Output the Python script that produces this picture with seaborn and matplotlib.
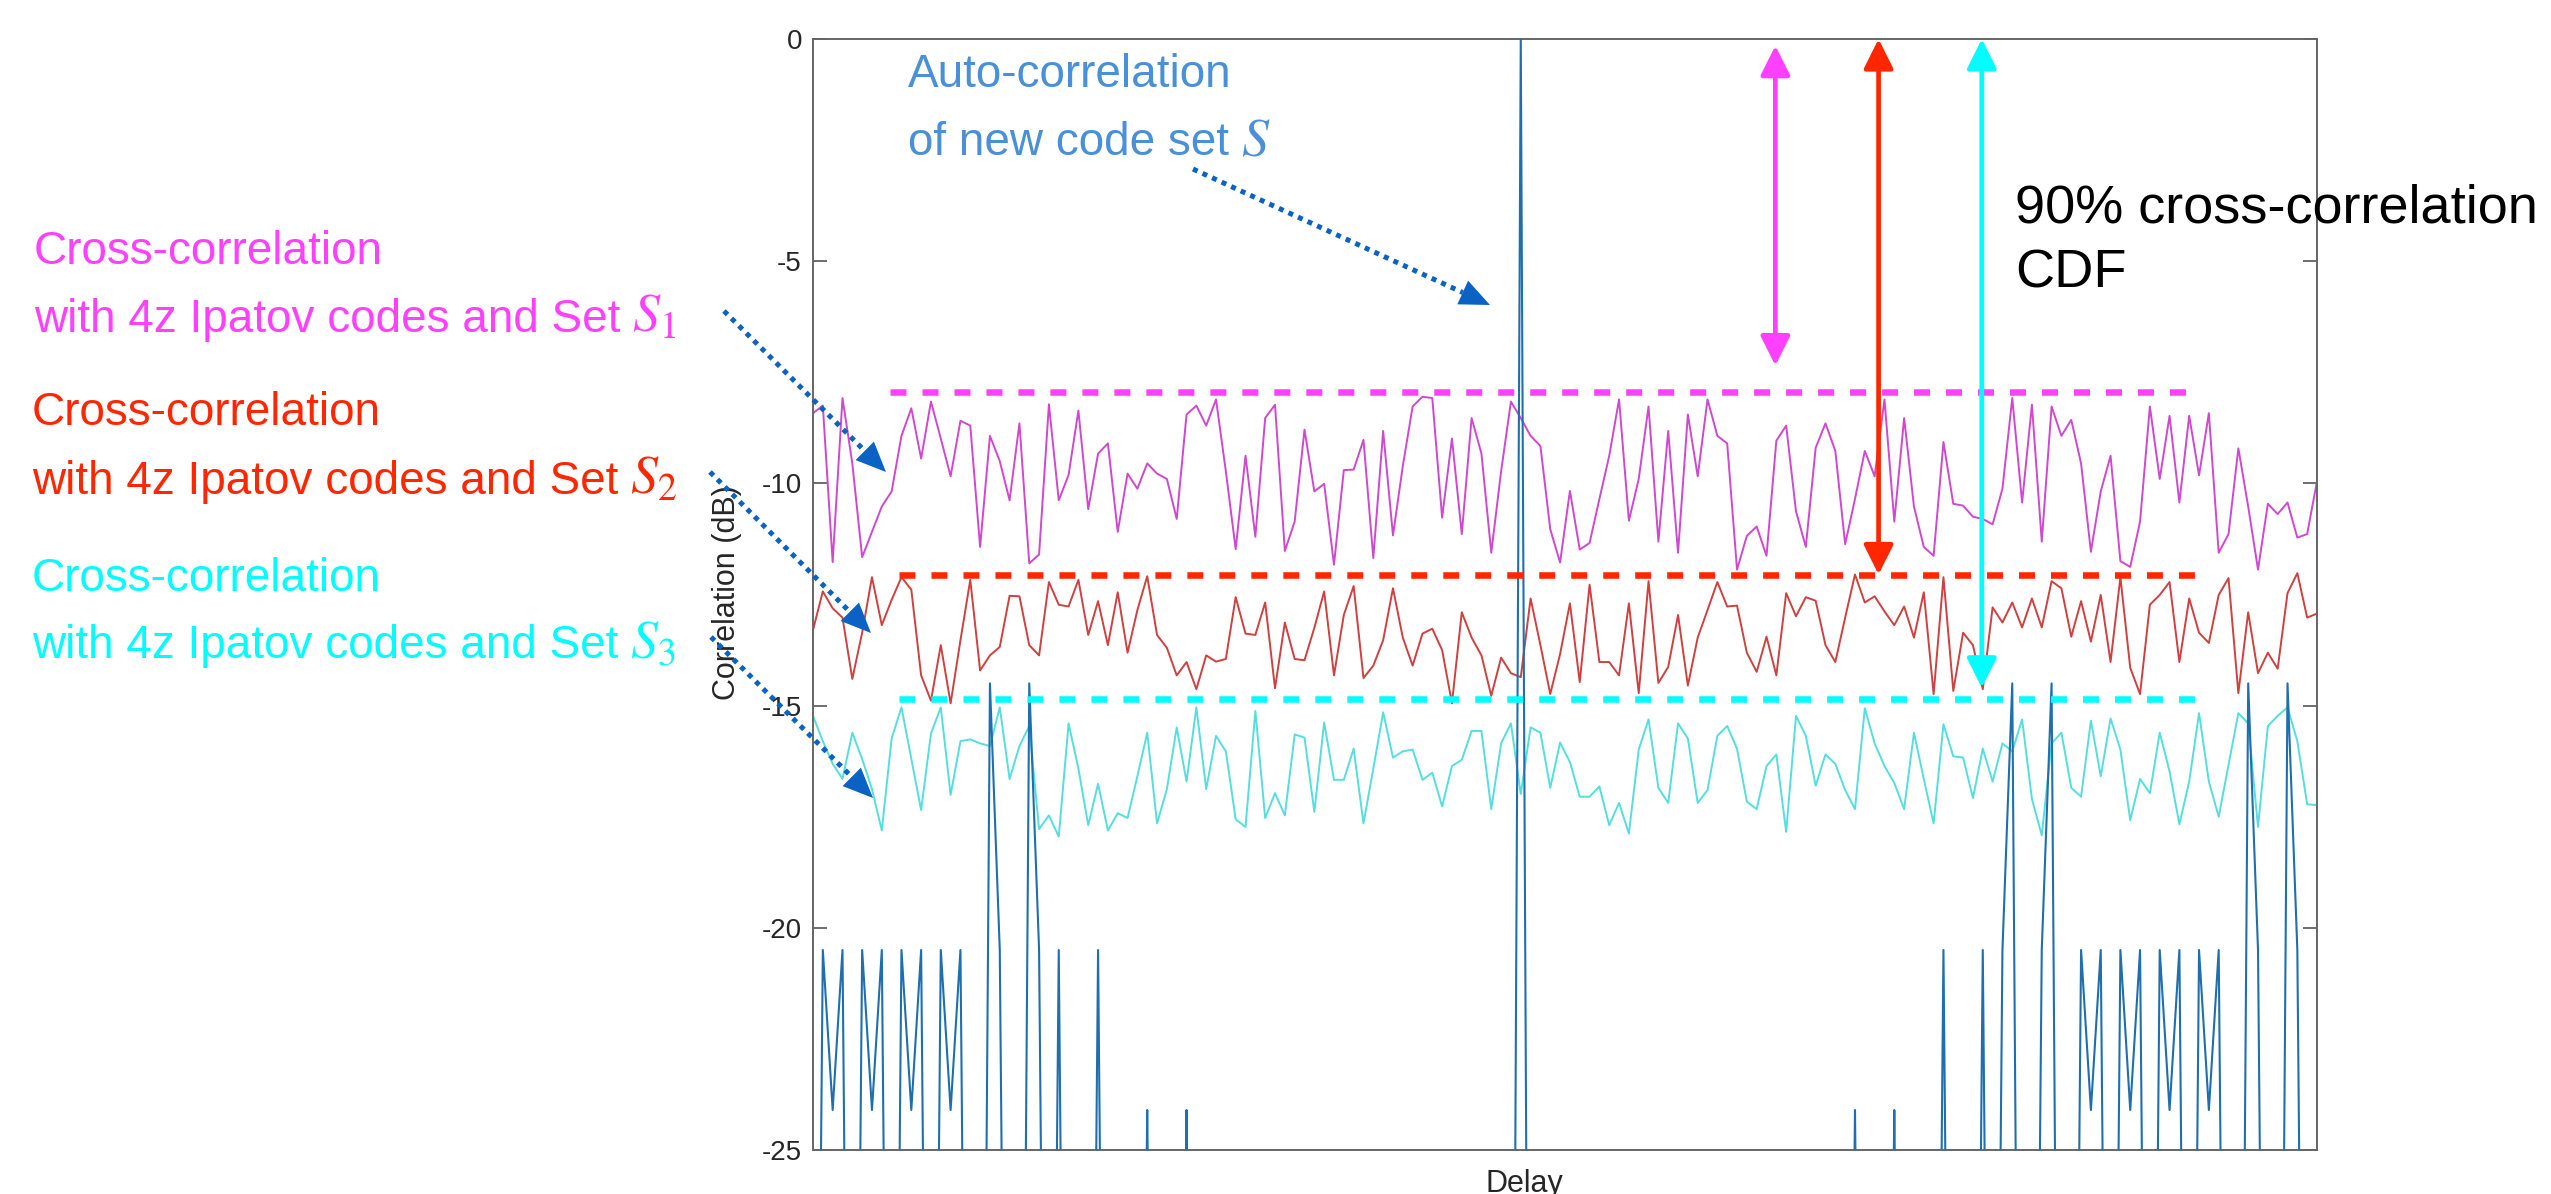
import matplotlib
matplotlib.use("Agg")
import matplotlib.pyplot as plt
from matplotlib.lines import Line2D

import numpy as np
import pandas as pd
import seaborn as sns

sns.set_theme(style="white")
plt.rcParams["font.family"] = ["Liberation Sans", "DejaVu Sans"]
plt.rcParams["mathtext.fontset"] = "stix"
plt.rcParams["axes.unicode_minus"] = False

# ---- data (dB, one value per delay step) ----
xcorr_set1 = [
    -8.42, -8.25, -11.77, -8.08, -9.55, -11.66, -11.09, -10.52, -10.18, -8.93,
    -8.31, -9.44, -8.16, -8.99, -9.84, -8.59, -8.70, -11.43, -8.93, -9.50,
    -10.38, -8.65, -11.80, -11.60, -8.22, -10.38, -9.81, -8.36, -10.58, -9.33,
    -9.10, -11.09, -9.78, -10.12, -9.55, -9.78, -9.90, -10.80, -8.45, -8.25,
    -8.70, -8.11, -9.73, -11.48, -9.38, -11.20, -8.53, -8.23, -11.52, -10.86,
    -8.79, -10.18, -10.01, -11.83, -9.70, -9.69, -9.02, -11.68, -8.82, -11.17,
    -9.61, -8.27, -8.05, -8.08, -10.77, -8.99, -11.14, -8.53, -9.33, -11.56,
    -9.73, -8.16, -8.53, -8.93, -9.16, -11.03, -11.78, -10.17, -11.49, -11.34,
    -10.35, -9.38, -8.11, -10.84, -9.90, -8.27, -11.31, -8.82, -11.56, -8.45,
    -9.84, -8.11, -8.93, -9.10, -11.94, -11.18, -10.97, -11.63, -9.04, -8.70,
    -10.63, -11.43, -9.20, -8.65, -9.27, -11.37, -10.35, -9.27, -9.84, -8.11,
    -10.86, -8.53, -10.52, -11.43, -11.63, -9.07, -10.46, -10.50, -10.75, -10.80,
    -10.92, -10.12, -8.08, -10.43, -8.23, -11.31, -8.27, -8.93, -8.57, -9.55,
    -11.54, -10.18, -9.38, -11.75, -11.88, -10.86, -8.27, -9.90, -8.48, -10.43,
    -8.48, -9.82, -8.42, -11.56, -11.14, -9.21, -10.52, -11.94, -10.46, -10.69,
    -10.43, -11.22, -11.14, -9.95,
]
xcorr_set2 = [
    -13.30, -12.43, -12.81, -13.02, -14.40, -13.36, -12.11, -13.19, -12.62, -12.11,
    -12.39, -14.32, -14.89, -13.64, -14.95, -13.53, -12.17, -14.21, -13.87, -13.68,
    -12.53, -12.54, -13.64, -13.87, -12.22, -12.73, -12.77, -12.17, -13.41, -12.65,
    -13.64, -12.45, -13.81, -12.85, -12.09, -13.41, -13.70, -14.32, -14.02, -14.63,
    -13.87, -14.01, -13.95, -12.56, -13.38, -13.41, -12.68, -14.61, -13.13, -13.95,
    -13.98, -13.25, -12.43, -14.32, -12.96, -12.31, -14.38, -14.10, -13.53, -12.36,
    -13.47, -14.10, -13.38, -13.27, -13.75, -14.95, -12.90, -13.47, -13.87, -14.78,
    -13.92, -14.27, -14.36, -12.59, -13.64, -14.74, -13.84, -12.70, -14.47, -12.28,
    -14.02, -14.02, -14.32, -12.70, -14.72, -12.20, -14.49, -14.13, -12.96, -14.55,
    -13.47, -12.85, -12.22, -12.77, -12.75, -13.81, -14.24, -13.45, -14.32, -12.47,
    -12.99, -12.56, -12.64, -13.64, -14.02, -13.02, -12.05, -12.68, -12.54, -12.88,
    -13.19, -12.77, -13.47, -12.45, -14.74, -12.11, -14.67, -13.36, -13.64, -14.63,
    -12.79, -13.13, -12.68, -13.24, -12.59, -13.24, -12.20, -12.36, -13.45, -12.65,
    -13.56, -12.51, -14.02, -12.11, -14.15, -14.74, -12.73, -12.51, -12.22, -14.02,
    -12.59, -13.36, -13.59, -12.51, -12.13, -14.72, -12.90, -14.27, -13.81, -14.17,
    -12.47, -12.02, -13.02, -12.93,
]
xcorr_set3 = [
    -15.23, -15.80, -16.31, -16.65, -15.61, -16.20, -16.88, -17.81, -15.74, -15.04,
    -16.20, -17.35, -15.63, -15.04, -17.01, -15.80, -15.76, -15.85, -15.91, -15.04,
    -16.65, -15.91, -15.46, -17.78, -17.47, -17.95, -15.40, -16.42, -17.69, -16.76,
    -17.81, -17.42, -17.53, -16.59, -15.61, -17.65, -16.88, -15.49, -16.71, -15.04,
    -16.88, -15.68, -16.03, -17.56, -17.73, -15.12, -17.53, -16.97, -17.47, -15.65,
    -15.72, -17.39, -15.38, -16.67, -16.67, -15.97, -17.65, -16.42, -15.15, -16.17,
    -16.03, -15.99, -16.67, -16.51, -17.27, -16.36, -16.22, -15.57, -15.57, -17.33,
    -15.85, -15.40, -16.99, -15.49, -15.61, -16.85, -15.83, -16.27, -17.05, -17.05,
    -16.82, -17.69, -17.19, -17.88, -15.99, -15.31, -16.85, -17.19, -15.40, -15.74,
    -17.19, -16.90, -15.68, -15.46, -15.97, -17.16, -17.33, -16.36, -16.10, -17.84,
    -15.23, -15.68, -16.80, -16.10, -16.31, -16.90, -17.33, -15.06, -15.85, -16.36,
    -16.74, -17.33, -15.61, -16.65, -17.65, -15.42, -16.14, -16.17, -17.08, -15.97,
    -16.71, -15.85, -16.03, -15.31, -17.10, -17.92, -15.85, -15.61, -16.85, -17.05,
    -15.34, -16.59, -15.29, -15.99, -17.58, -16.65, -16.97, -15.61, -16.48, -17.67,
    -16.71, -15.17, -16.71, -17.50, -16.33, -15.17, -15.40, -17.73, -15.46, -15.23,
    -15.04, -15.80, -17.22, -17.24,
]
# auto-correlation of S; -45 stands for values far below the -25 dB floor
autocorr_S = [
    -45, -20.5, -24.1, -20.5, -45, -20.5, -24.1, -20.5, -45, -20.5,
    -24.1, -20.5, -45, -20.5, -24.1, -20.5, -45, -45, -14.5, -20.5,
    -45, -45, -14.5, -20.5, -45, -20.5, -45, -45, -45, -20.5,
    -45, -45, -45, -45, -24.1, -45, -45, -45, -24.1, -45,
    -45, -45, -45, -45, -45, -45, -45, -45, -45, -45,
    -45, -45, -45, -45, -45, -45, -45, -45, -45, -45,
    -45, -45, -45, -45, -45, -45, -45, -45, -45, -45,
    -45, -45, 0.0, -45, -45, -45, -45, -45, -45, -45,
    -45, -45, -45, -45, -45, -45, -45, -45, -45, -45,
    -45, -45, -45, -45, -45, -45, -45, -45, -45, -45,
    -45, -45, -45, -45, -45, -45, -24.1, -45, -45, -45,
    -24.1, -45, -45, -45, -45, -20.5, -45, -45, -45, -20.5,
    -45, -20.5, -14.5, -45, -45, -20.5, -14.5, -45, -45, -20.5,
    -24.1, -20.5, -45, -20.5, -24.1, -20.5, -45, -20.5, -24.1, -20.5,
    -45, -20.5, -24.1, -20.5, -45, -45, -14.5, -20.5, -45, -45,
    -14.5, -20.5, -45, -45,
]
cdf90_levels = [-7.95, -12.05, -14.85]
cdf90_start = [7.8, 8.7, 8.7]
cdf90_stop = [139.7, 140.6, 140.6]
y_ticks = [-25, -20, -15, -10, -5, 0]

MAGENTA, RED, CYAN = "#FF40FF", "#FF2600", "#00FDFF"
LINE_COLORS = ["#D048D0", "#D04040", "#55DEDE"]
AUTO_COLOR = "#1F6FAE"
NOTE_BLUE = "#0A62C4"
TEXT_BLUE = "#4A90D9"

W, H = 2551, 1194


def fx(px):
    return px / W


def fy(py):
    return 1 - py / H


def dotted_pointer(fig, start, tip, head_len=30, head_half=13):
    # dotted shaft + solid filled triangle head, all in figure pixels (top-left origin)
    sx, sy = start[0], H - start[1]
    tx, ty = tip[0], H - tip[1]
    d = np.hypot(tx - sx, ty - sy)
    ux, uy = (tx - sx) / d, (ty - sy) / d
    bx, by = tx - ux * head_len, ty - uy * head_len
    fig.add_artist(Line2D([sx / W, bx / W], [sy / H, by / H], transform=fig.transFigure,
                          color=NOTE_BLUE, lw=3.6, dashes=(1, 1.1), dash_capstyle="butt",
                          zorder=7))
    corners_x = [tx, bx - uy * head_half, bx + uy * head_half]
    corners_y = [ty, by + ux * head_half, by - ux * head_half]
    fig.patches.append(plt.Polygon(np.c_[np.array(corners_x) / W, np.array(corners_y) / H],
                                   closed=True, transform=fig.transFigure,
                                   facecolor=NOTE_BLUE, edgecolor="none", zorder=8))


def text_with_symbol(fig, renderer, x, base, words, sym, color, fs, sym_fs, gap=12):
    t = fig.text(fx(x), fy(base), words, color=color, fontsize=fs, va="baseline")
    ext = t.get_window_extent(renderer=renderer)
    fig.text((ext.x1 + gap) / W, fy(base), sym, color=color, fontsize=sym_fs, va="baseline")


def run_plot():
    delay = np.arange(len(autocorr_S))
    df = pd.DataFrame({
        "Delay": delay,
        "set1": xcorr_set1,
        "set2": xcorr_set2,
        "set3": xcorr_set3,
        "auto": autocorr_S,
    })

    fig = plt.figure(figsize=(W / 100, H / 100), dpi=100)
    ax = fig.add_axes([fx(813), fy(1150), 1504 / W, 1111 / H])

    for col, c in zip(["set1", "set2", "set3"], LINE_COLORS):
        sns.lineplot(data=df, x="Delay", y=col, color=c, lw=1.4,
                     estimator=None, sort=False, ax=ax, zorder=2)
    sns.lineplot(data=df, x="Delay", y="auto", color=AUTO_COLOR, lw=1.5,
                 estimator=None, sort=False, ax=ax, zorder=3)

    # 90% CDF levels
    for lvl, x0, x1, c in zip(cdf90_levels, cdf90_start, cdf90_stop, [MAGENTA, RED, CYAN]):
        ax.plot([x0, x1], [lvl, lvl], color=c, lw=4.7, dashes=(2.45, 2.45),
                solid_capstyle="butt", zorder=4)

    ax.set_xlim(delay[0], delay[-1])
    ax.set_ylim(-25, 0)
    ax.set_xticks([])
    ax.set_yticks(y_ticks)
    ax.set_yticklabels([str(t) for t in y_ticks])
    ax.tick_params(axis="y", direction="in", length=10, width=1.2, color="#555555",
                   labelsize=20, labelcolor="#262626", pad=8, left=True, right=True)
    for s in ax.spines.values():
        s.set_color("#666666")
        s.set_linewidth(1.4)

    ax.set_xlabel("Delay", fontsize=22, color="#262626")
    ax.set_ylabel("Correlation (dB)", fontsize=22, color="#262626")
    ax.xaxis.set_label_coords(0.473, -0.017)
    ax.yaxis.set_label_coords(-0.047, 0.502)

    # double arrows from 0 dB down to each 90% level
    arrow_x = [97.9, 108.4, 118.9]
    arrow_top = [-0.15, 0.0, 0.0]
    arrow_bot = [-7.35, cdf90_levels[1], cdf90_levels[2] + 0.25]
    for xa, yt, yb, c in zip(arrow_x, arrow_top, arrow_bot, [MAGENTA, RED, CYAN]):
        ax.annotate("", xy=(xa, yb), xytext=(xa, yt),
                    arrowprops=dict(arrowstyle="<|-|>,head_length=1.8,head_width=0.9",
                                    color=c, lw=3.4, shrinkA=0, shrinkB=0,
                                    mutation_scale=10),
                    annotation_clip=False, zorder=6)

    # dotted pointers from the notes to the curves
    dotted_pointer(fig, (1193, 169), (1490, 305))
    dotted_pointer(fig, (724, 311), (886, 472))
    dotted_pointer(fig, (710, 472), (871, 633))
    dotted_pointer(fig, (711, 637), (873, 798))

    renderer = fig.canvas.get_renderer()
    fs, sym_fs = 33, 39
    fig.text(fx(908), fy(87), "Auto-correlation", color=TEXT_BLUE, fontsize=fs, va="baseline")
    text_with_symbol(fig, renderer, 908, 155, "of new code set", "$S$", TEXT_BLUE, fs, sym_fs)

    notes = [
        (34, 264, 332, MAGENTA, "$S_1$"),
        (32, 425, 494, RED, "$S_2$"),
        (32, 591, 658, CYAN, "$S_3$"),
    ]
    for x, b1, b2, c, sym in notes:
        fig.text(fx(x), fy(b1), "Cross-correlation", color=c, fontsize=fs, va="baseline")
        text_with_symbol(fig, renderer, x, b2, "with 4z Ipatov codes and Set", sym, c, fs, sym_fs)

    fig.text(fx(2015), fy(223), "90% cross-correlation", color="black", fontsize=39, va="baseline")
    fig.text(fx(2015), fy(288), "CDF", color="black", fontsize=39, va="baseline")

    fig.savefig("out.png", dpi=100, facecolor="white")
    plt.close(fig)


if __name__ == "__main__":
    run_plot()
